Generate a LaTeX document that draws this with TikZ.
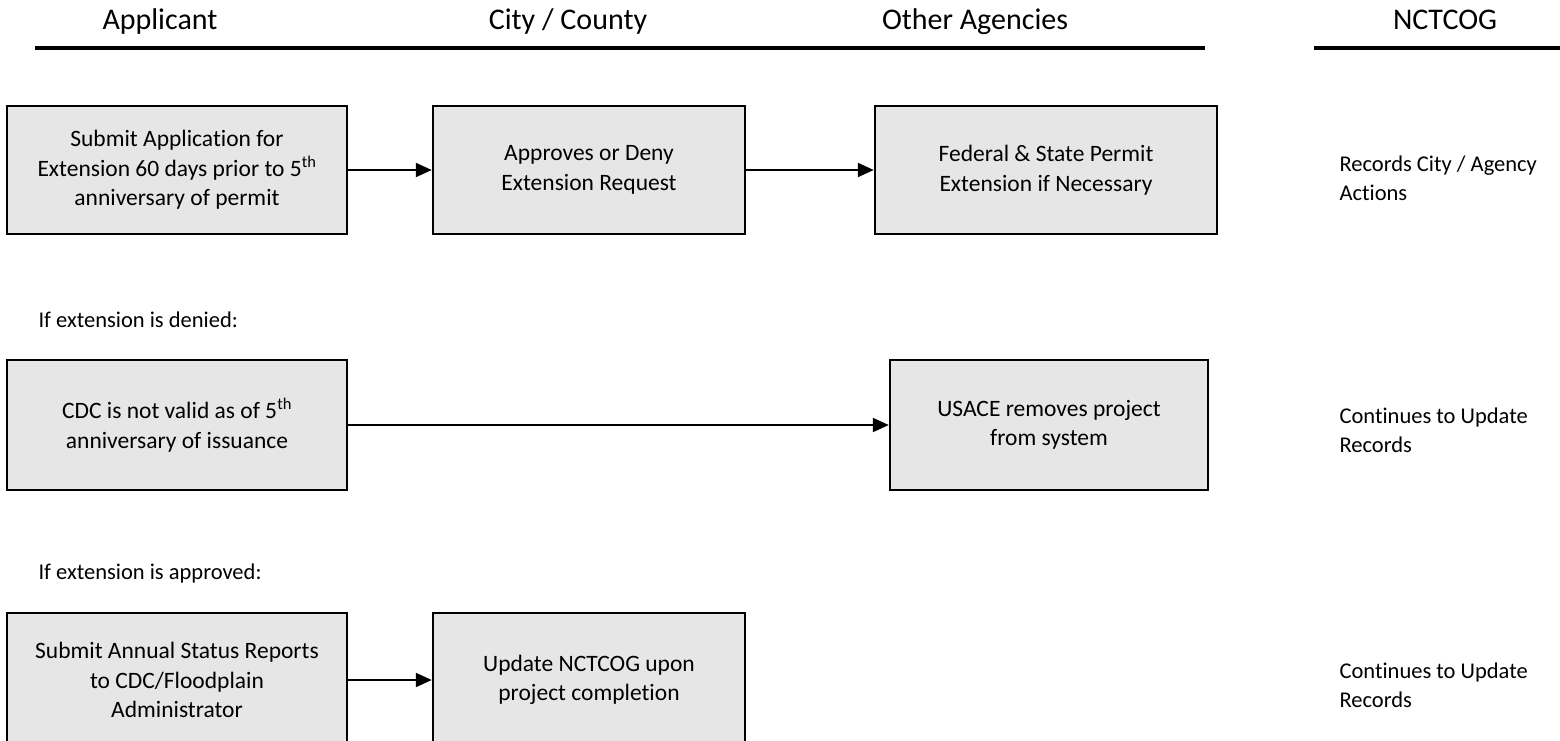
\documentclass[tikz,border=0pt]{standalone}
\usepackage{fontspec}
\setmainfont[Ligatures=NoCommon]{Carlito}
\usetikzlibrary{arrows.meta}
\definecolor{boxgray}{RGB}{230,230,230}
\tikzset{
  stepbox/.style={draw=black, line width=2.5pt, fill=boxgray, align=center,
    font=\fontsize{23.5}{29.5}\selectfont, inner sep=0pt},
  header/.style={font=\fontsize{30}{36}\selectfont, anchor=base},
  note/.style={font=\fontsize{22.5}{29}\selectfont, align=left, anchor=west},
  hline/.style={line width=4.5pt},
  flow/.style={line width=2.2pt, -{Triangle[length=16pt,width=14pt]}}
}
\begin{document}
\begin{tikzpicture}[x=1pt,y=-1pt]
\useasboundingbox (0,0) rectangle (1560,741);
\clip (0,0) rectangle (1560,741);
% headers
\node[header] (hA) at (160,30) {Applicant};
\node[header] (hB) at (568,30) {City / County};
\node[header] (hC) at (975,30) {Other Agencies};
\node[header] (hD) at (1445,30) {NCTCOG};
\coordinate (l1a) at (35,48);
\coordinate (l1b) at (1205,48);
\coordinate (l2a) at (1314,48);
\coordinate (l2b) at (1562,48);
\draw[hline] (l1a) -- (l1b);
\draw[hline] (l2a) -- (l2b);
% row 1
\node[stepbox, minimum width=340pt, minimum height=128pt] (a1) at (177,170)
  {Submit Application for\\Extension 60 days prior to 5\textsuperscript{th}\\anniversary of permit};
\node[stepbox, minimum width=312pt, minimum height=128pt] (b1) at (589,170)
  {Approves or Deny\\Extension Request};
\node[stepbox, minimum width=342pt, minimum height=128pt] (c1) at (1046,170)
  {Federal \& State Permit\\Extension if Necessary};
\node[note] (d1) at (1336,178) {Records City / Agency\\Actions};
\draw[flow] (a1) -- (b1);
\draw[flow] (b1) -- (c1);
% row 2
\node[note] (lab2) at (35,320) {If extension is denied:};
\node[stepbox, minimum width=340pt, minimum height=130pt] (a2) at (177,425)
  {CDC is not valid as of 5\textsuperscript{th}\\anniversary of issuance};
\node[stepbox, minimum width=318pt, minimum height=130pt] (c2) at (1049,425)
  {USACE removes project\\from system};
\node[note] (d2) at (1336,430) {Continues to Update\\Records};
\draw[flow] (a2) -- (c2);
% row 3
\node[note] (lab3) at (35,573) {If extension is approved:};
\node[stepbox, minimum width=340pt, minimum height=134pt] (a3) at (177,680)
  {Submit Annual Status Reports\\to CDC/Floodplain\\Administrator};
\node[stepbox, minimum width=312pt, minimum height=134pt] (b3) at (589,680)
  {Update NCTCOG upon\\project completion};
\node[note] (d3) at (1336,685) {Continues to Update\\Records};
\draw[flow] (a3) -- (b3);
\end{tikzpicture}
\end{document}
